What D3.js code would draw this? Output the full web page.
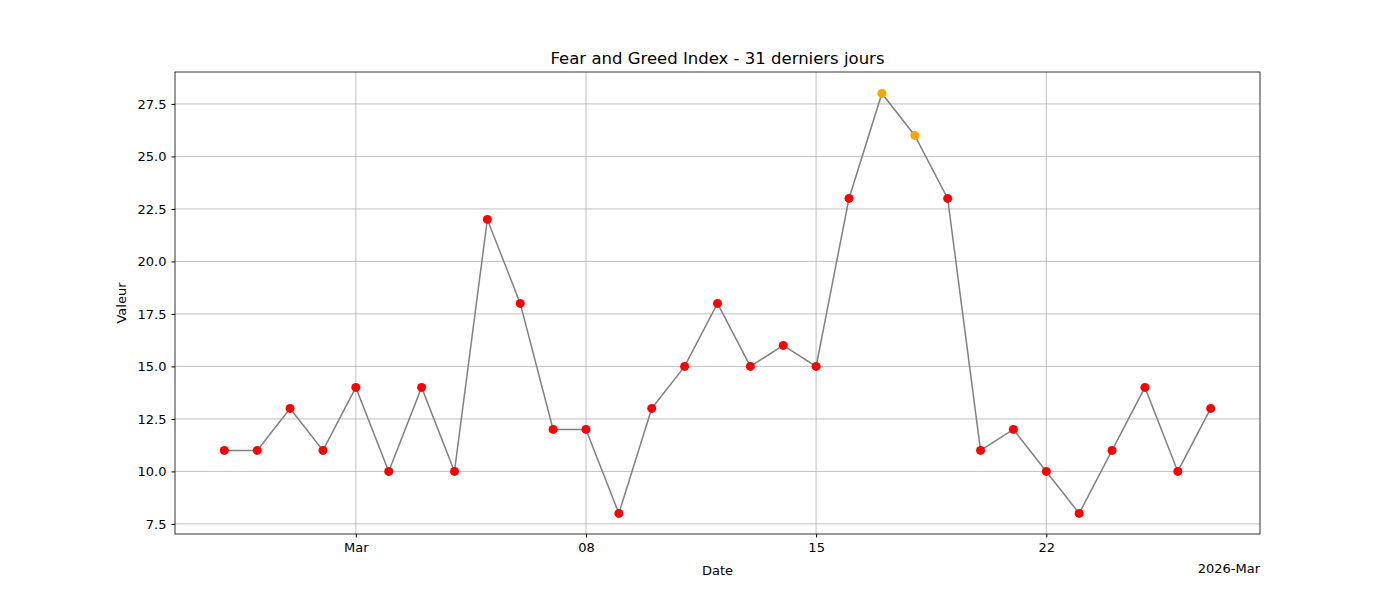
<!DOCTYPE html>
<html><head><meta charset="utf-8">
<script src="https://cdn.jsdelivr.net/npm/d3@7"></script>
<style>body{margin:0;background:#fff}text{font-family:"DejaVu Sans",sans-serif}</style>
</head><body><svg id="c" width="1400" height="600"></svg>
<script>
// Fear and Greed values, one per day from 2026-02-25
const startDate = new Date(2026, 1, 25)
const values = [11,11,13,11,14,10,14,10,22,18,12,12,8,13,15,18,15,16,15,23,28,26,23,11,12,10,8,11,14,10,13]
const yTicks = [7.5,10,12.5,15,17.5,20,22.5,25,27.5]
const xTickLabels = ["Mar","08","15","22"]
const xTickDates = [new Date(2026,2,1),new Date(2026,2,8),new Date(2026,2,15),new Date(2026,2,22)]

const data = values.map((v,i) => ({date: d3.timeDay.offset(startDate, i), value: v}))

const margin = {top: 72, left: 175, right: 140, bottom: 66}
const width = 1400 - margin.left - margin.right, height = 600 - margin.top - margin.bottom

const x = d3.scaleTime()
    .domain([d3.timeHour.offset(data[0].date, -36), d3.timeHour.offset(data[data.length-1].date, 36)])
    .range([0, width])
const y = d3.scaleLinear().domain([7.02, 29.02]).range([height, 0])

const svg = d3.select("#c")
const g = svg.append("g").attr("transform", "translate(" + margin.left + "," + margin.top + ")")

// grid
g.selectAll(".gy").data(yTicks).enter().append("line")
    .attr("x1", 0).attr("x2", width).attr("y1", d => y(d)).attr("y2", d => y(d))
    .attr("stroke", "#b0b0b0").attr("stroke-width", 0.8)
g.selectAll(".gx").data(xTickDates).enter().append("line")
    .attr("y1", 0).attr("y2", height).attr("x1", d => x(d)).attr("x2", d => x(d))
    .attr("stroke", "#b0b0b0").attr("stroke-width", 0.8)

const xAxis = d3.axisBottom(x).tickValues(xTickDates).tickFormat((d,i) => xTickLabels[i]).tickSizeOuter(0).tickSize(3.5).tickPadding(5)
const yAxis = d3.axisLeft(y).tickValues(yTicks).tickFormat(d3.format(".1f")).tickSizeOuter(0).tickSize(3.5).tickPadding(5)
g.append("g").attr("transform", "translate(0," + height + ")").call(xAxis)
g.append("g").call(yAxis)
g.selectAll(".tick text").attr("font-size", 13).attr("fill", "#000").style("font-family", "DejaVu Sans")
g.selectAll(".domain").remove()
g.append("rect").attr("width", width).attr("height", height).attr("fill", "none").attr("stroke", "#000").attr("stroke-width", 0.8)

const line = d3.line().x(d => x(d.date)).y(d => y(d.value))
g.append("path").datum(data).attr("d", line).attr("fill", "none").attr("stroke", "gray").attr("stroke-width", 1.5)
g.selectAll(".pt").data(data).enter().append("circle")
    .attr("cx", d => x(d.date)).attr("cy", d => y(d.value)).attr("r", 4.5)
    .attr("fill", d => d.value >= 25 ? "orange" : "red")

svg.append("text").attr("x", margin.left + width/2).attr("y", 64).attr("text-anchor", "middle").attr("font-size", 16.5).text("Fear and Greed Index - 31 derniers jours")
svg.append("text").attr("x", margin.left + width/2).attr("y", 575).attr("text-anchor", "middle").attr("font-size", 13).text("Date")
svg.append("text").attr("x", margin.left + width).attr("y", 573).attr("text-anchor", "end").attr("font-size", 13).text("2026-Mar")
svg.append("text").attr("transform", "translate(126," + (margin.top + height/2) + ") rotate(-90)").attr("text-anchor", "middle").attr("font-size", 13).text("Valeur")
</script></body></html>
